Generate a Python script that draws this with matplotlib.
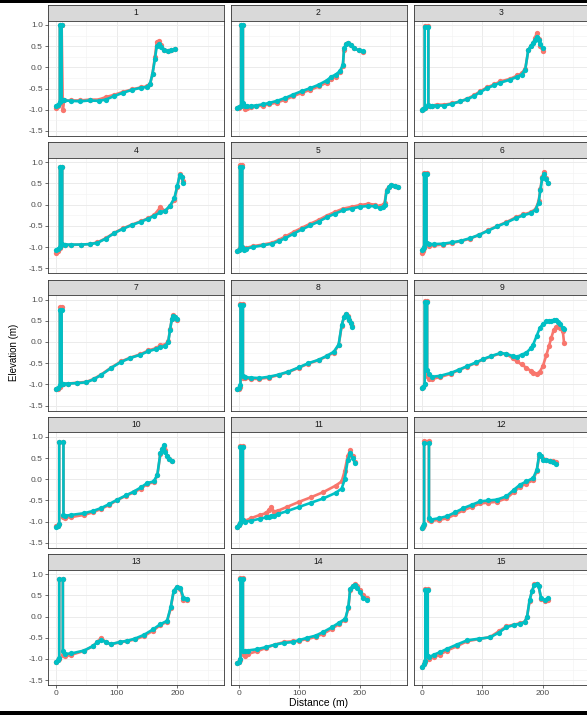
import matplotlib
matplotlib.use('Agg')
import matplotlib.pyplot as plt
from matplotlib.patches import Rectangle

plt.rcParams['font.family'] = ['Liberation Sans', 'DejaVu Sans']

# ---------------- data ----------------
panel_labels = ['1', '2', '3', '4', '5', '6', '7', '8', '9', '10', '11', '12', '13', '14', '15']
x_ticks = [0, 100, 200]
x_tick_labels = ['0', '100', '200']
y_ticks = [-1.5, -1.0, -0.5, 0.0, 0.5, 1.0]
y_tick_labels = ['-1.5', '-1.0', '-0.5', '0.0', '0.5', '1.0']
x_label = 'Distance (m)'
y_label = 'Elevation (m)'

dist_01 = [0, 3, 6, 6, 9, 9, 11, 13, 25, 40, 55, 70, 82, 95, 110, 125, 140, 150, 155, 159, 163, 166, 169, 173, 178, 184, 190, 196]
teal_01 = [-0.90, -0.88, -0.82, 1.00, 1.00, -0.78, -0.78, -0.78, -0.79, -0.80, -0.78, -0.79, -0.76, -0.68, -0.60, -0.53, -0.48, -0.46, -0.38, -0.15, 0.20, 0.50, 0.55, 0.48, 0.40, 0.38, 0.40, 0.44]
red_01 = [-0.95, -0.92, -0.85, 1.00, 1.00, 1.00, -1.00, -0.78, -0.78, -0.78, -0.76, -0.76, -0.70, -0.65, -0.58, -0.52, -0.47, -0.45, -0.40, -0.15, 0.25, 0.60, 0.62, 0.52, 0.42, 0.38, 0.40, 0.44]

dist_02 = [-2, 1, 4, 4, 7, 7, 10, 13, 20, 28, 40, 50, 63, 77, 90, 104, 118, 132, 145, 153, 160, 167, 172, 174, 177, 180, 185, 191, 198, 205]
teal_02 = [-0.96, -0.93, -0.90, 1.00, 1.00, -0.85, -0.90, -0.92, -0.91, -0.90, -0.87, -0.84, -0.79, -0.72, -0.64, -0.56, -0.49, -0.41, -0.31, -0.22, -0.17, -0.09, 0.06, 0.45, 0.55, 0.58, 0.52, 0.45, 0.40, 0.38]
red_02 = [-0.96, -0.95, -0.92, 1.00, 1.00, -0.90, -0.99, -0.95, -0.93, -0.92, -0.90, -0.87, -0.83, -0.76, -0.68, -0.60, -0.53, -0.45, -0.36, -0.27, -0.22, -0.12, 0.03, 0.42, 0.55, 0.57, 0.52, 0.45, 0.40, 0.37]

dist_03 = [0, 2, 5, 5, 11, 11, 14, 17, 25, 37, 50, 64, 75, 86, 97, 108, 120, 130, 146, 158, 165, 171, 176, 180, 184, 187, 190, 193, 196, 200]
teal_03 = [-1.00, -0.97, -0.95, 0.96, 0.96, -0.88, -0.90, -0.90, -0.90, -0.90, -0.86, -0.80, -0.75, -0.68, -0.58, -0.49, -0.42, -0.36, -0.29, -0.22, -0.17, -0.05, 0.42, 0.50, 0.57, 0.65, 0.72, 0.65, 0.55, 0.45]
red_03 = [-1.00, -0.98, -0.95, 0.98, 0.98, -0.90, -0.92, -0.90, -0.88, -0.88, -0.85, -0.80, -0.74, -0.66, -0.56, -0.47, -0.40, -0.33, -0.27, -0.19, -0.14, -0.03, 0.40, 0.50, 0.57, 0.70, 0.81, 0.66, 0.50, 0.38]

dist_04 = [0, 3, 6, 6, 10, 10, 14, 25, 41, 55, 68, 82, 96, 110, 125, 140, 152, 162, 172, 180, 188, 195, 200, 204, 207, 210]
teal_04 = [-1.08, -1.05, -1.00, 0.88, 0.88, -0.92, -0.94, -0.94, -0.94, -0.93, -0.90, -0.80, -0.67, -0.57, -0.48, -0.40, -0.33, -0.26, -0.18, -0.14, -0.02, 0.15, 0.45, 0.70, 0.65, 0.52]
red_04 = [-1.15, -1.10, -1.02, 0.90, 0.90, -0.94, -0.96, -0.95, -0.94, -0.93, -0.89, -0.79, -0.66, -0.56, -0.47, -0.39, -0.32, -0.24, -0.06, -0.15, -0.04, 0.12, 0.42, 0.72, 0.65, 0.55]

dist_05 = [-2, 0, 2, 2, 6, 6, 9, 12, 23, 40, 55, 66, 77, 91, 105, 118, 132, 145, 159, 173, 187, 200, 214, 225, 233, 238, 241, 244, 248, 252, 258, 263]
teal_05 = [-1.10, -1.08, -1.05, 0.90, 0.90, -1.00, -1.06, -1.04, -1.00, -0.96, -0.92, -0.86, -0.79, -0.68, -0.58, -0.49, -0.40, -0.30, -0.21, -0.13, -0.09, -0.05, -0.03, -0.04, -0.08, -0.05, 0.00, 0.32, 0.42, 0.47, 0.45, 0.42]
red_05 = [-1.10, -1.07, -1.03, 0.94, 0.94, -1.00, -1.05, -1.02, -0.98, -0.94, -0.90, -0.83, -0.75, -0.64, -0.54, -0.45, -0.36, -0.26, -0.17, -0.09, -0.05, -0.01, 0.02, 0.00, -0.04, 0.00, 0.05, 0.35, 0.42, 0.47, 0.45, 0.42]

dist_06 = [0, 2, 4, 4, 8, 8, 12, 20, 35, 50, 65, 80, 95, 110, 125, 140, 155, 168, 180, 188, 193, 196, 199, 202, 205, 208]
teal_06 = [-1.08, -1.05, -1.00, 0.73, 0.73, -0.90, -0.93, -0.93, -0.92, -0.89, -0.85, -0.79, -0.71, -0.61, -0.51, -0.42, -0.32, -0.25, -0.20, -0.12, 0.05, 0.35, 0.62, 0.72, 0.60, 0.50]
red_06 = [-1.15, -1.10, -1.02, 0.75, 0.75, -0.92, -0.97, -0.96, -0.94, -0.90, -0.86, -0.80, -0.71, -0.60, -0.50, -0.41, -0.30, -0.23, -0.18, -0.10, 0.08, 0.38, 0.65, 0.78, 0.62, 0.52]

dist_07 = [0, 3, 6, 6, 9, 9, 12, 20, 35, 50, 62, 74, 90, 107, 122, 139, 152, 164, 172, 180, 185, 188, 191, 193, 196, 200]
teal_07 = [-1.10, -1.08, -1.02, 0.75, 0.75, -0.98, -0.98, -0.98, -0.97, -0.95, -0.88, -0.78, -0.62, -0.47, -0.38, -0.30, -0.22, -0.17, -0.12, -0.10, 0.00, 0.29, 0.55, 0.62, 0.60, 0.55]
red_07 = [-1.12, -1.10, -1.05, 0.82, 0.82, -1.00, -1.00, -0.98, -0.96, -0.94, -0.87, -0.77, -0.61, -0.46, -0.37, -0.29, -0.20, -0.15, -0.08, -0.06, 0.02, 0.30, 0.55, 0.64, 0.58, 0.52]

dist_08 = [-2, 1, 3, 3, 7, 7, 10, 20, 34, 50, 66, 82, 99, 115, 132, 145, 157, 165, 170, 174, 177, 180, 182, 185, 187]
teal_08 = [-1.12, -1.08, -1.02, 0.88, 0.88, -0.80, -0.83, -0.84, -0.85, -0.82, -0.77, -0.70, -0.60, -0.50, -0.42, -0.33, -0.23, -0.06, 0.40, 0.60, 0.65, 0.60, 0.52, 0.44, 0.36]
red_08 = [-1.12, -1.10, -1.05, 0.90, 0.90, -0.84, -0.86, -0.87, -0.87, -0.84, -0.78, -0.71, -0.61, -0.51, -0.43, -0.34, -0.25, -0.08, 0.38, 0.60, 0.67, 0.62, 0.53, 0.45, 0.38]

dist_09 = [0, 3, 5, 5, 9, 9, 12, 17, 30, 48, 62, 75, 90, 102, 115, 130, 140, 150, 157, 165, 173, 180, 184, 190, 195, 200, 206, 210, 214, 218, 222, 225, 229, 233, 235]
teal_09 = [-1.08, -1.05, -1.00, 0.94, 0.94, -0.65, -0.75, -0.82, -0.80, -0.73, -0.65, -0.57, -0.48, -0.40, -0.33, -0.26, -0.28, -0.33, -0.35, -0.30, -0.25, -0.15, -0.06, 0.15, 0.33, 0.42, 0.49, 0.50, 0.50, 0.51, 0.51, 0.48, 0.42, 0.33, 0.30]
red_09 = [-1.08, -1.06, -1.00, 0.96, 0.96, -0.80, -0.87, -0.87, -0.83, -0.75, -0.66, -0.58, -0.49, -0.41, -0.34, -0.27, -0.29, -0.38, -0.46, -0.53, -0.61, -0.68, -0.72, -0.75, -0.70, -0.57, -0.30, -0.10, 0.10, 0.29, 0.35, 0.37, 0.33, 0.25, -0.02]

dist_10 = [0, 3, 5, 5, 12, 12, 14, 25, 46, 60, 74, 88, 101, 115, 128, 140, 150, 161, 167, 172, 175, 178, 180, 183, 187, 191]
teal_10 = [-1.13, -1.10, -1.05, 0.87, 0.87, -0.85, -0.86, -0.84, -0.80, -0.75, -0.68, -0.58, -0.48, -0.38, -0.29, -0.19, -0.09, -0.05, 0.11, 0.62, 0.72, 0.81, 0.65, 0.54, 0.47, 0.42]
red_10 = [-1.10, -1.10, -1.05, 0.87, 0.87, -0.90, -0.91, -0.89, -0.84, -0.78, -0.70, -0.60, -0.49, -0.39, -0.31, -0.22, -0.11, -0.07, 0.09, 0.60, 0.72, 0.78, 0.68, 0.55, 0.47, 0.42]

dist_11 = [-2, 1, 3, 3, 7, 7, 10, 20, 35, 45, 50, 54, 58, 65, 80, 100, 120, 140, 160, 170, 175, 180, 184, 188, 192]
teal_11 = [-1.12, -1.08, -1.02, 0.76, 0.76, -0.95, -1.00, -0.98, -0.93, -0.90, -0.88, -0.87, -0.86, -0.82, -0.75, -0.65, -0.55, -0.45, -0.32, -0.22, 0.00, 0.45, 0.62, 0.50, 0.38]
red_11 = [-1.12, -1.08, -1.02, 0.78, 0.78, -0.95, -0.98, -0.92, -0.84, -0.80, -0.72, -0.65, -0.76, -0.74, -0.65, -0.53, -0.42, -0.30, -0.15, -0.05, 0.20, 0.55, 0.68, 0.55, 0.40]

dist_12 = [1, 3, 4, 4, 12, 12, 15, 28, 42, 55, 69, 83, 97, 110, 124, 140, 152, 162, 173, 184, 190, 194, 197, 200, 205, 211, 216, 221]
teal_12 = [-1.15, -1.10, -1.05, 0.85, 0.85, -0.92, -0.95, -0.92, -0.87, -0.78, -0.68, -0.60, -0.52, -0.50, -0.48, -0.40, -0.25, -0.13, -0.05, 0.03, 0.22, 0.59, 0.55, 0.46, 0.45, 0.44, 0.41, 0.37]
red_12 = [-1.15, -1.12, -1.07, 0.90, 0.90, -0.95, -0.98, -0.96, -0.92, -0.83, -0.73, -0.65, -0.57, -0.55, -0.53, -0.45, -0.30, -0.18, -0.10, -0.02, 0.20, 0.55, 0.55, 0.48, 0.46, 0.44, 0.43, 0.40]

dist_13 = [0, 3, 5, 5, 11, 11, 14, 25, 46, 60, 68, 74, 82, 90, 105, 117, 130, 145, 160, 172, 183, 189, 194, 199, 205, 210, 216]
teal_13 = [-1.06, -1.03, -0.98, 0.88, 0.88, -0.82, -0.88, -0.87, -0.80, -0.70, -0.61, -0.55, -0.60, -0.65, -0.60, -0.57, -0.52, -0.43, -0.30, -0.18, -0.10, 0.22, 0.61, 0.70, 0.68, 0.45, 0.42]
red_13 = [-1.06, -1.03, -1.00, 0.88, 0.88, -0.90, -0.94, -0.90, -0.81, -0.70, -0.60, -0.50, -0.60, -0.65, -0.61, -0.58, -0.54, -0.46, -0.33, -0.20, -0.12, 0.20, 0.60, 0.70, 0.65, 0.38, 0.40]

dist_14 = [-2, 1, 3, 3, 7, 7, 10, 15, 30, 45, 60, 75, 90, 99, 113, 127, 140, 154, 165, 176, 181, 184, 188, 192, 196, 200, 205, 211]
teal_14 = [-1.10, -1.06, -1.00, 0.88, 0.88, -0.80, -0.82, -0.80, -0.77, -0.72, -0.66, -0.62, -0.60, -0.56, -0.50, -0.45, -0.36, -0.25, -0.15, -0.05, 0.22, 0.65, 0.72, 0.75, 0.68, 0.57, 0.45, 0.39]
red_14 = [-1.10, -1.06, -1.02, 0.90, 0.90, -0.88, -0.92, -0.88, -0.82, -0.74, -0.66, -0.60, -0.58, -0.57, -0.53, -0.48, -0.40, -0.29, -0.18, -0.07, 0.20, 0.62, 0.72, 0.76, 0.72, 0.62, 0.52, 0.45]

dist_15 = [1, 4, 6, 6, 10, 10, 12, 20, 30, 42, 58, 75, 95, 113, 127, 140, 152, 162, 170, 174, 178, 182, 186, 190, 193, 197, 203, 208]
teal_15 = [-1.18, -1.12, -1.05, 0.63, 0.63, -0.92, -0.96, -0.90, -0.84, -0.76, -0.66, -0.56, -0.52, -0.49, -0.38, -0.25, -0.20, -0.17, -0.13, 0.00, 0.38, 0.60, 0.75, 0.76, 0.72, 0.45, 0.38, 0.44]
red_15 = [-1.18, -1.12, -1.07, 0.65, 0.65, -0.95, -1.00, -0.96, -0.90, -0.80, -0.70, -0.58, -0.53, -0.48, -0.35, -0.23, -0.19, -0.16, -0.12, 0.00, 0.36, 0.60, 0.76, 0.78, 0.72, 0.42, 0.36, 0.40]

dists = [dist_01, dist_02, dist_03, dist_04, dist_05, dist_06, dist_07, dist_08,
         dist_09, dist_10, dist_11, dist_12, dist_13, dist_14, dist_15]
reds = [red_01, red_02, red_03, red_04, red_05, red_06, red_07, red_08,
        red_09, red_10, red_11, red_12, red_13, red_14, red_15]
teals = [teal_01, teal_02, teal_03, teal_04, teal_05, teal_06, teal_07, teal_08,
         teal_09, teal_10, teal_11, teal_12, teal_13, teal_14, teal_15]

# ---------------- layout ----------------
W, H = 587, 715
fig = plt.figure(figsize=(W / 100, H / 100), dpi=100)
fig.patch.set_facecolor('white')

def fx(px):
    return px / W

def fy(py):
    return 1 - py / H

col_left = [48, 230.5, 413.5]
panel_w = 176
strip_top = [5, 142.3, 279.6, 416.9, 554.2]
strip_h = 15.5
panel_h = 115.5

RED = '#F8766D'
TEAL = '#00BFC4'
BORDER = '#333333'

for i, lab in enumerate(panel_labels):
    r, c = divmod(i, 3)
    left = col_left[c]
    top = strip_top[r]
    # strip
    sax = fig.add_axes([fx(left), fy(top + strip_h), panel_w / W, strip_h / H])
    sax.set_facecolor('#D9D9D9')
    sax.set_xticks([])
    sax.set_yticks([])
    for sp in sax.spines.values():
        sp.set_color(BORDER)
        sp.set_linewidth(0.6)
    sax.text(0.5, 0.5, lab, transform=sax.transAxes, ha='center', va='center',
             fontsize=6.2, color='#1A1A1A')
    # panel
    ax = fig.add_axes([fx(left), fy(top + strip_h + panel_h), panel_w / W, panel_h / H])
    ax.set_facecolor('white')
    ax.plot(dists[i], reds[i], color=RED, lw=1.9, marker='o', ms=3.8, mew=0, zorder=3)
    ax.plot(dists[i], teals[i], color=TEAL, lw=1.9, marker='o', ms=3.8, mew=0, zorder=4)
    ax.set_xlim(-13.5, 277)
    ax.set_ylim(-1.618, 1.106)
    ax.set_xticks(x_ticks)
    ax.set_xticks([50, 150, 250], minor=True)
    ax.set_yticks(y_ticks)
    ax.set_yticks([-1.25, -0.75, -0.25, 0.25, 0.75], minor=True)
    ax.grid(which='major', color='#EBEBEB', lw=0.7)
    ax.grid(which='minor', color='#F2F2F2', lw=0.4)
    ax.set_axisbelow(True)
    for sp in ax.spines.values():
        sp.set_color(BORDER)
        sp.set_linewidth(0.6)
    ax.tick_params(which='minor', length=0)
    ax.tick_params(which='major', length=2.2, width=0.5, color=BORDER,
                   labelsize=6.0, labelcolor='#4D4D4D', pad=1.5)
    if c == 0:
        ax.set_yticklabels(y_tick_labels)
    else:
        ax.tick_params(axis='y', which='major', left=False, labelleft=False)
    if r == 4:
        ax.set_xticklabels(x_tick_labels)
    else:
        ax.tick_params(axis='x', which='major', bottom=False, labelbottom=False)

fig.text(fx(319), fy(703.5), x_label, ha='center', va='center', fontsize=7.5, color='black')
fig.text(fx(14), fy(352), y_label, ha='center', va='center', fontsize=7,
         rotation=90, color='black')

# black bands at top and bottom edges
fig.patches.append(Rectangle((0, fy(3)), 1, 3 / H, transform=fig.transFigure,
                             facecolor='black', edgecolor='none', zorder=10))
fig.patches.append(Rectangle((0, 0), 1, 4.3 / H, transform=fig.transFigure,
                             facecolor='black', edgecolor='none', zorder=10))

fig.savefig('out.png', dpi=100)
